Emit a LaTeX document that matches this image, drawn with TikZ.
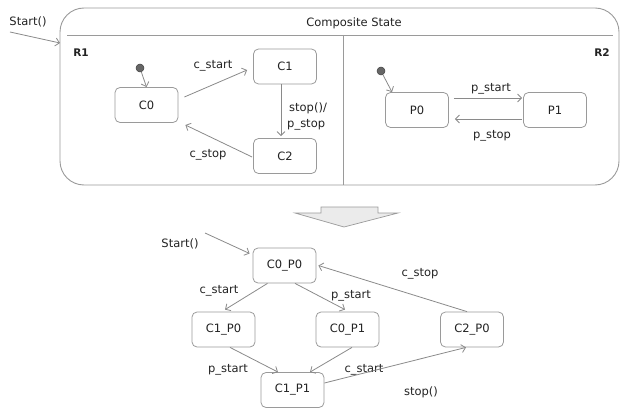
\documentclass[tikz,border=0pt]{standalone}
\usepackage{fontspec}
\setmainfont{DejaVu Sans}
\usetikzlibrary{arrows.meta}
\definecolor{linegray}{HTML}{8A8A8A}
\definecolor{boxgray}{HTML}{9A9A9A}
\definecolor{txt}{HTML}{222222}
\begin{document}
\begin{tikzpicture}[x=1pt,y=-1pt,
  every node/.style={text=txt,font=\fontsize{11.5}{13}\selectfont},
  st/.style={draw=boxgray,line width=0.8pt,rounded corners=5pt,minimum width=63pt,minimum height=35pt,inner sep=0pt},
  tr/.style={draw=linegray,line width=0.8pt,-{Straight Barb[length=4pt,width=8pt]}},
  lbl/.style={inner sep=0pt},
  initdot/.style={circle,fill=black!60,draw=black!75,minimum size=8pt,inner sep=0pt,line width=0.5pt}]
\useasboundingbox (0,0) rectangle (623,409);
% composite state
\draw[boxgray,line width=0.9pt,rounded corners=24pt] (60,8) rectangle (619,185);
\draw[boxgray,line width=0.9pt] (67,35) -- (613,35);
\draw[boxgray,line width=0.9pt] (343,35) -- (343,185);
\node[lbl] (title) at (354,23) {Composite State};
\node[lbl,font=\bfseries\fontsize{10.5}{12}\selectfont] (r1) at (81,53) {R1};
\node[lbl,font=\bfseries\fontsize{10.5}{12}\selectfont] (r2) at (602,53) {R2};
\node[lbl] (startA) at (28,22) {Start()};
\coordinate (sA) at (10,32);
\coordinate (sAe) at (60,43);
\draw[tr] (sA) -- (sAe);
% R1
\node[initdot] (i1) at (140,68) {};
\node[st] (c0) at (146.5,105) {C0};
\node[st] (c1) at (285,66.5) {C1};
\node[st] (c2) at (285,156) {C2};
\draw[tr] (i1) -- (c0.north);
\draw[tr] ([shift={(6,-8)}]c0.east) -- ([shift={(-6,3.5)}]c1.west);
\node[lbl] (l1) at (213,66) {c\_start};
\draw[tr] ([shift={(-4,0)}]c1.south) -- ([shift={(-4,-2)}]c2.north);
\node[lbl,anchor=west] (l2) at (289,108) {stop()/};
\node[lbl,anchor=west] (l3) at (287,125) {p\_stop};
\draw[tr] ([shift={(-1,1)}]c2.west) -- ([shift={(7,20)}]c0.east);
\node[lbl] (l4) at (208,155) {c\_stop};
% R2
\node[initdot] (i2) at (381,71) {};
\node[st] (p0) at (417,110) {P0};
\node[st] (p1) at (555,110) {P1};
\draw[tr] (i2) -- ([shift={(-25,0)}]p0.north);
\draw[tr] ([shift={(5,-12)}]p0.east) -- ([shift={(-1,-12)}]p1.west);
\draw[tr] ([shift={(-1,9)}]p1.west) -- ([shift={(6,9)}]p0.east);
\node[lbl] (l5) at (491,89) {p\_start};
\node[lbl] (l6) at (492,136) {p\_stop};
% big arrow
\draw[boxgray,fill=black!8,line width=0.7pt] (321,207) -- (378,207) -- (378,213) -- (398,213) -- (344,227) -- (295,213) -- (321,213) -- cycle;
% bottom machine
\node[st] (c00) at (284.5,265.5) {C0\_P0};
\node[st] (c10) at (223.5,329.5) {C1\_P0};
\node[st] (c01) at (347.5,329.5) {C0\_P1};
\node[st] (c20) at (472,329.5) {C2\_P0};
\node[st] (c11) at (292.5,390) {C1\_P1};
\node[lbl] (startB) at (180,244) {Start()};
\coordinate (sB) at (205,233);
\draw[tr] (sB) -- ([shift={(-3,-12)}]c00.west);
\draw[tr] ([shift={(-17,0)}]c00.south) -- ([shift={(1.5,-2)}]c10.north);
\node[lbl] (m1) at (219,291) {c\_start};
\draw[tr] ([shift={(10.5,0)}]c00.south) -- ([shift={(-2.5,-2)}]c01.north);
\node[lbl] (m2) at (351,296) {p\_start};
\draw[tr] ([shift={(-5,0)}]c20.north) -- ([shift={(2,0)}]c00.east);
\node[lbl] (m3) at (420,274) {c\_stop};
\draw[tr] ([shift={(6.5,0)}]c10.south) -- ([shift={(-14.5,0)}]c11.north);
\node[lbl] (m4) at (228,370) {p\_start};
\draw[tr] ([shift={(4.5,0)}]c01.south) -- ([shift={(17.5,0)}]c11.north);
\node[lbl] (m5) at (364,370) {c\_start};
\draw[tr] ([shift={(0,-7)}]c11.east) -- ([shift={(-6,0)}]c20.south);
\node[lbl] (m6) at (421,392) {stop()};
\end{tikzpicture}
\end{document}
